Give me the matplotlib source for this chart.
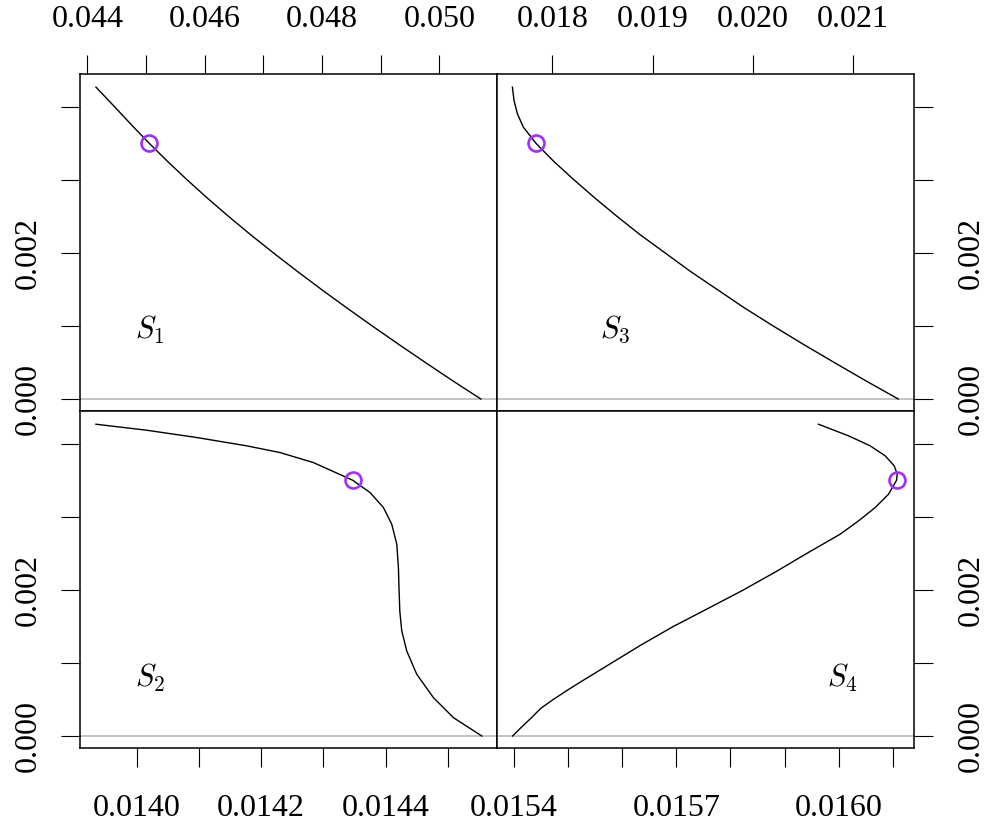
import numpy as np
import matplotlib
matplotlib.use("Agg")
import matplotlib.pyplot as plt

plt.rcParams['font.family'] = ['Liberation Serif', 'DejaVu Serif']
plt.rcParams['mathtext.fontset'] = 'cm'

# curve data (x, y) for each panel
s1_x = [0.044148, 0.044467, 0.044757, 0.045057, 0.045372, 0.045702, 0.046047, 0.046407,
        0.046782, 0.047172, 0.047575, 0.047990, 0.048417, 0.048855, 0.049303, 0.049760,
        0.050225, 0.050705]
s1_y = [0.00427, 0.0040, 0.00375, 0.0035, 0.00325, 0.0030, 0.00275, 0.0025,
        0.00225, 0.0020, 0.00175, 0.0015, 0.00125, 0.0010, 0.00075, 0.0005,
        0.00025, 0.0]

s3_x = [0.017600, 0.017616, 0.017650, 0.017710, 0.017836, 0.018016, 0.018216, 0.018426,
        0.018646, 0.018876, 0.019126, 0.019376, 0.019646, 0.019916, 0.020206, 0.020506,
        0.020816, 0.021131, 0.021456]
s3_y = [0.00427, 0.004087, 0.003904, 0.003721, 0.0035, 0.00325, 0.0030, 0.00275,
        0.0025, 0.00225, 0.0020, 0.00175, 0.0015, 0.00125, 0.0010, 0.00075,
        0.0005, 0.00025, 0.0]

s2_x = [0.0139346, 0.0140160, 0.0140964, 0.0141768, 0.0142304, 0.0142840, 0.0143472,
        0.0143751, 0.0143965, 0.0144099, 0.0144180, 0.0144206, 0.0144217, 0.0144228,
        0.0144260, 0.0144340, 0.0144501, 0.0144769, 0.0145091, 0.0145546]
s2_y = [0.004269, 0.004187, 0.004087, 0.003973, 0.003881, 0.003744, 0.003502,
        0.003333, 0.003128, 0.002900, 0.002626, 0.002306, 0.001986, 0.001712,
        0.001438, 0.001164, 0.000845, 0.000525, 0.000251, 0.0]

s4_x = [0.0159626, 0.0160181, 0.0160581, 0.0160858, 0.0161025, 0.0161080, 0.0161068,
        0.0160920, 0.0160673, 0.0160365, 0.0160026, 0.0159410, 0.0158843, 0.0158240,
        0.0157593, 0.0156946, 0.0156360, 0.0155806, 0.0155251, 0.0154985, 0.0154728,
        0.0154500, 0.0154327, 0.0154140, 0.0153976]
s4_y = [0.004269, 0.004110, 0.003973, 0.003836, 0.003699, 0.003584, 0.003502,
        0.003311, 0.003128, 0.002945, 0.002763, 0.0025, 0.002251, 0.0020,
        0.001749, 0.0015, 0.001251, 0.0010, 0.000749, 0.000625, 0.0005,
        0.000380, 0.000251, 0.000120, 0.0]

# highlighted points
pts = {"S1": (0.045051, 0.0035), "S3": (0.017836, 0.0035),
       "S2": (0.014347, 0.0035), "S4": (0.016108, 0.0035)}

# axis settings
xlims = {"S1": (0.043876, 0.05098), "S3": (0.017446, 0.021613),
         "S2": (0.013909, 0.014579), "S4": (0.015369, 0.016139)}
xticks = {"S1": [0.044, 0.045, 0.046, 0.047, 0.048, 0.049, 0.050],
          "S3": [0.018, 0.019, 0.020, 0.021],
          "S2": [0.0140, 0.0141, 0.0142, 0.0143, 0.0144, 0.0145],
          "S4": [0.0154, 0.0155, 0.0156, 0.0157, 0.0158, 0.0159, 0.0160, 0.0161]}
xlabels = {"S1": ["0.044", "", "0.046", "", "0.048", "", "0.050"],
           "S3": ["0.018", "0.019", "0.020", "0.021"],
           "S2": ["0.0140", "", "0.0142", "", "0.0144", ""],
           "S4": ["0.0154", "", "", "0.0157", "", "", "0.0160", ""]}
yticks = [0.000, 0.001, 0.002, 0.003, 0.004]
ylabels = ["0.000", "", "0.002", "", ""]
ylim = (-0.000164, 0.00445)

label_pos = {"S1": (0.045068, 0.00094), "S3": (0.018626, 0.00096),
             "S2": (0.014021, 0.00080), "S4": (0.016006, 0.00080)}

fig = plt.figure(figsize=(9.87, 8.25), dpi=100)

L, M, R = 80/987, 497/987, 914/987
T, C, B = 1-74/825, 1-411/825, 1-748/825

panels = {
    "S1": ([L, C, M-L, T-C], s1_x, s1_y, "top", "left"),
    "S3": ([M, C, R-M, T-C], s3_x, s3_y, "top", "right"),
    "S2": ([L, B, M-L, C-B], s2_x, s2_y, "bottom", "left"),
    "S4": ([M, B, R-M, C-B], s4_x, s4_y, "bottom", "right"),
}

for key, (rect, xs, ys, xside, yside) in panels.items():
    ax = fig.add_axes(rect)
    ax.axhline(0, color='#BEBEBE', lw=1.3, zorder=1)
    ax.plot(xs, ys, color='black', lw=1.0, zorder=2)
    px, py = pts[key]
    ax.plot(px, py, 'o', ms=11.5, mfc='none', mec='#9B30FF', mew=1.9, zorder=3)
    ax.text(*label_pos[key], "$S_{%s}$" % key[1], fontsize=22,
            ha='center', va='center')
    ax.set_xlim(*xlims[key])
    ax.set_ylim(*ylim)
    ax.set_xticks(xticks[key])
    ax.set_xticklabels(xlabels[key])
    ax.set_yticks(yticks)
    ax.set_yticklabels(ylabels, rotation=90, va='center')
    ax.tick_params(axis='both', direction='out', length=13.5, width=0.8,
                   labelsize=23)
    if xside == "top":
        ax.tick_params(axis='x', top=True, bottom=False, labeltop=True,
                       labelbottom=False, pad=15)
    else:
        ax.tick_params(axis='x', pad=19.5)
    if yside == "right":
        ax.tick_params(axis='y', right=True, left=False, labelright=True,
                       labelleft=False, pad=17.5)
    else:
        ax.tick_params(axis='y', pad=13)
    for sp in ax.spines.values():
        sp.set_linewidth(1.1)

plt.savefig("out.png", dpi=100)
plt.close()
